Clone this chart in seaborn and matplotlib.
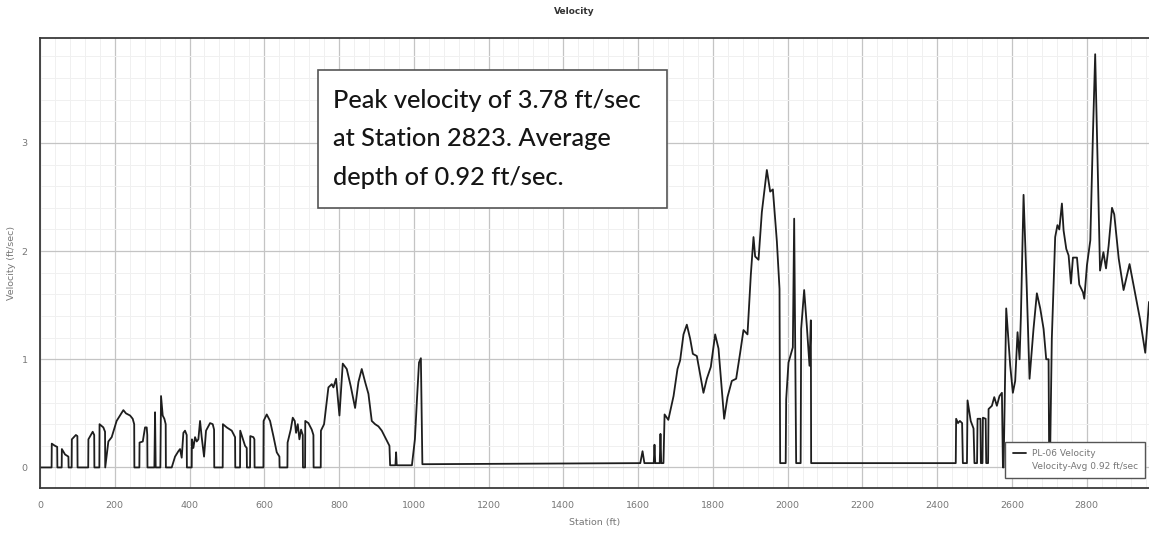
import matplotlib
matplotlib.use("Agg")
import matplotlib.pyplot as plt
from matplotlib.patches import Rectangle
from matplotlib.lines import Line2D
from matplotlib.ticker import MultipleLocator
import seaborn as sns
import pandas as pd

# ---- data ----
station = [
    0, 31, 31.5, 40, 46, 46.5, 58, 58.5, 67, 76, 76.5, 84.7, 85.2, 96, 100, 100.5,
    129, 129.5, 141, 145, 145.5, 158.8, 159.3, 169.5, 174, 174.5, 182.9, 191.8, 205, 216, 223, 230, 241, 248, 252, 252.5,
    265.8, 266.3, 275, 281, 285.5, 287, 287.5, 306, 307.8, 309.5, 322, 323.8, 328.3, 332.7, 336.3, 336.8,
    352.4, 361.3, 370.2, 374.7, 379.1, 383.6, 388, 392.5, 393,
    405.9, 406.4, 410.3, 414.8, 419.3, 423.7, 428.2, 432.6, 438.9, 444.2, 450.5, 455, 462.1, 465.7, 466.2,
    488.8, 489.3, 499.6, 513, 517.4, 521.9, 522.4,
    535.2, 535.7, 548.6, 553.1, 553.6, 562, 562.5, 570.9, 573.6, 574.1,
    597.7, 598.2, 606.6, 615.5, 624.4, 633.4, 640.5, 641,
    661.9, 662.4, 670.8, 676.2, 681.5, 685.1, 689.6, 694, 698.5, 703, 703.5,
    709.2, 709.7, 718.1, 727, 731.5, 732,
    751.1, 751.6, 760, 771.6, 780.6, 785, 792.1, 801.1, 810, 820.7, 831.4, 843, 851.9, 860.8, 869.8, 878.7,
    887.6, 896.5, 905.4, 914.4, 926, 934.9, 936.7, 950.9, 952.7, 954.4,
    995, 1003, 1009, 1014, 1019, 1023,
    1606, 1612, 1617, 1642, 1644, 1646, 1658, 1660, 1662, 1668, 1671, 1681, 1695, 1705.5, 1712.6, 1721.6,
    1730.5, 1739.4, 1746.6, 1757.3, 1775, 1784, 1794.7, 1806.3, 1815.2, 1830.4, 1839.3, 1850.9, 1862.5,
    1873.2, 1882.1, 1892.8, 1901.7, 1908.9, 1913.3, 1922.3, 1931.2, 1944.6, 1953.5, 1960.7, 1971.4, 1978.5,
    1980.2, 1995, 1996.3, 2002.5, 2014.1, 2017.7, 2023, 2035, 2036.4, 2044.4, 2051.5, 2058.7, 2062.3, 2063.1,
    2450, 2451, 2456, 2461, 2467, 2469, 2480, 2481.5, 2490, 2497.6, 2500, 2507, 2508.3, 2516, 2517.2,
    2521.5, 2522.6, 2530, 2531.5, 2536.5, 2537.8, 2546.7, 2553, 2560, 2567, 2573.5, 2576.2, 2578,
    2585, 2595.7, 2602.8, 2609, 2615.3, 2620.7, 2624.3, 2631.4, 2640, 2647.4, 2658, 2667, 2676, 2685,
    2692, 2698.3, 2700, 2702, 2707, 2716, 2722, 2727, 2734, 2738.5, 2745.7, 2751.9, 2758.2, 2763.5,
    2774.3, 2780.5, 2790.3, 2793.9, 2801, 2810, 2817, 2823, 2829, 2836, 2845, 2852, 2859, 2868, 2874,
    2886, 2899, 2915, 2926, 2943, 2957, 2967,
]
velocity = [
    0, 0, 0.22, 0.2, 0.19, 0, 0, 0.17, 0.12, 0.1, 0, 0, 0.26, 0.3, 0.29, 0,
    0, 0.26, 0.33, 0.3, 0, 0, 0.4, 0.37, 0.33, 0, 0.24, 0.28, 0.43, 0.49, 0.53, 0.5, 0.48, 0.45, 0.4, 0,
    0, 0.23, 0.24, 0.37, 0.37, 0.3, 0, 0, 0.51, 0, 0, 0.66, 0.48, 0.45, 0.4, 0,
    0, 0.1, 0.15, 0.17, 0.09, 0.32, 0.34, 0.3, 0,
    0, 0.26, 0.18, 0.28, 0.24, 0.26, 0.43, 0.28, 0.1, 0.34, 0.38, 0.41, 0.4, 0.35, 0,
    0, 0.4, 0.37, 0.34, 0.31, 0.28, 0,
    0, 0.34, 0.2, 0.18, 0, 0, 0.29, 0.28, 0.26, 0,
    0, 0.43, 0.49, 0.43, 0.29, 0.14, 0.1, 0,
    0, 0.23, 0.35, 0.46, 0.43, 0.32, 0.4, 0.26, 0.35, 0.3, 0,
    0, 0.43, 0.41, 0.35, 0.3, 0,
    0, 0.34, 0.4, 0.74, 0.77, 0.74, 0.82, 0.48, 0.96, 0.91, 0.75, 0.55, 0.79, 0.91, 0.79, 0.68,
    0.43, 0.4, 0.38, 0.34, 0.26, 0.2, 0.02, 0.02, 0.14, 0.02,
    0.02, 0.26, 0.66, 0.97, 1.01, 0.03,
    0.04, 0.15, 0.04, 0.04, 0.21, 0.04, 0.04, 0.31, 0.04, 0.04, 0.49, 0.44, 0.66, 0.91, 0.99, 1.23,
    1.32, 1.19, 1.05, 1.03, 0.69, 0.82, 0.93, 1.23, 1.10, 0.45, 0.65, 0.80, 0.82,
    1.06, 1.27, 1.23, 1.78, 2.13, 1.95, 1.92, 2.36, 2.75, 2.55, 2.57, 2.09, 1.65,
    0.04, 0.04, 0.63, 0.97, 1.11, 2.3, 0.04, 0.04, 1.28, 1.64, 1.31, 0.94, 1.36, 0.04,
    0.04, 0.45, 0.41, 0.43, 0.41, 0.04, 0.04, 0.62, 0.43, 0.36, 0.04, 0.04, 0.45, 0.45, 0.04,
    0.04, 0.46, 0.45, 0.04, 0.04, 0.54, 0.57, 0.65, 0.57, 0.66, 0.69, 0.0, 0.0,
    1.47, 0.94, 0.69, 0.8, 1.25, 1.0, 1.4, 2.52, 1.65, 0.82, 1.28, 1.61, 1.47, 1.28,
    1.0, 1.0, 0.0, 0.0, 1.19, 2.13, 2.24, 2.2, 2.44, 2.19, 2.02, 1.96, 1.7, 1.94,
    1.94, 1.69, 1.62, 1.56, 1.87, 2.1, 3.08, 3.82, 2.9, 1.82, 1.99, 1.84, 2.05, 2.4, 2.34,
    1.93, 1.64, 1.88, 1.68, 1.37, 1.06, 1.53,
]
series_name = "PL-06 Velocity"
avg_label = "Velocity-Avg 0.92 ft/sec"
title = "Velocity"
x_label = "Station (ft)"
y_label = "Velocity (ft/sec)"
note = "Peak velocity of 3.78 ft/sec\nat Station 2823. Average\ndepth of 0.92 ft/sec."
x_ticks = list(range(0, 2801, 200))
y_ticks = [0, 1, 2, 3]

df = pd.DataFrame({"Station": station, "Velocity": velocity})

sns.set_theme(style="white")
plt.rcParams["font.family"] = ["DejaVu Sans"]

fig = plt.figure(figsize=(11.49, 5.35), dpi=100)
ax = fig.add_axes([40 / 1149, (535 - 488) / 535, 1109 / 1149, 450 / 535])

sns.lineplot(data=df, x="Station", y="Velocity", estimator=None, sort=False,
             color="#1e1e1e", linewidth=1.3, ax=ax)

ax.set_xlim(0, 2967)
ax.set_ylim(-0.19, 3.97)
ax.set_xticks(x_ticks)
ax.set_yticks(y_ticks)
ax.xaxis.set_minor_locator(MultipleLocator(40))
ax.yaxis.set_minor_locator(MultipleLocator(0.2))

ax.grid(which="major", color="#c4c4c4", linewidth=0.9)
ax.grid(which="minor", color="#f0f0f0", linewidth=0.7)
ax.set_axisbelow(True)

for s in ["left", "bottom", "top"]:
    ax.spines[s].set_color("#3a3a3a")
    ax.spines[s].set_linewidth(1.3)
ax.spines["right"].set_visible(False)

ax.tick_params(axis="both", which="major", direction="out", length=3, width=0.8,
               colors="#666666", labelsize=6.8, pad=6)
ax.tick_params(axis="both", which="minor", direction="out", length=2, width=0.6,
               colors="#666666")
for lab in ax.get_xticklabels() + ax.get_yticklabels():
    lab.set_color("#777777")

ax.set_xlabel(x_label, fontsize=6.8, color="#777777", labelpad=6)
ax.set_ylabel(y_label, fontsize=6.8, color="#777777", labelpad=4)

fig.text(0.5, 1 - 12 / 535, title, ha="center", va="center",
         fontsize=6.5, fontweight="bold", color="#333333")

# annotation box
bx0, bx1 = (318 - 40) / 1109, (667 - 40) / 1109
by0, by1 = (488 - 208) / 450, (488 - 70) / 450
ax.add_patch(Rectangle((bx0, by0), bx1 - bx0, by1 - by0, transform=ax.transAxes,
                       facecolor="white", edgecolor="#555555", linewidth=1.2, zorder=5))
ax.text((333 - 40) / 1109, (488 - 139) / 450, note, transform=ax.transAxes,
        ha="left", va="center", fontsize=18.3, family=["Lato", "DejaVu Sans"],
        fontweight="medium", color="#151515", linespacing=1.8, zorder=6)

handles = [Line2D([], [], color="#1e1e1e", linewidth=1.3),
           Line2D([], [], color="none", linewidth=1.3)]
leg = ax.legend(handles, [series_name, avg_label], loc="lower right",
                bbox_to_anchor=((1145 - 40) / 1109, (488 - 478) / 450),
                fontsize=6.5, frameon=True, fancybox=False, framealpha=1,
                edgecolor="#555555", handlelength=1.5, handletextpad=0.6,
                borderpad=0.8, labelspacing=0.4, borderaxespad=0)
leg.get_frame().set_linewidth(1.0)
for t in leg.get_texts():
    t.set_color("#777777")

fig.savefig("out.png", dpi=100)
